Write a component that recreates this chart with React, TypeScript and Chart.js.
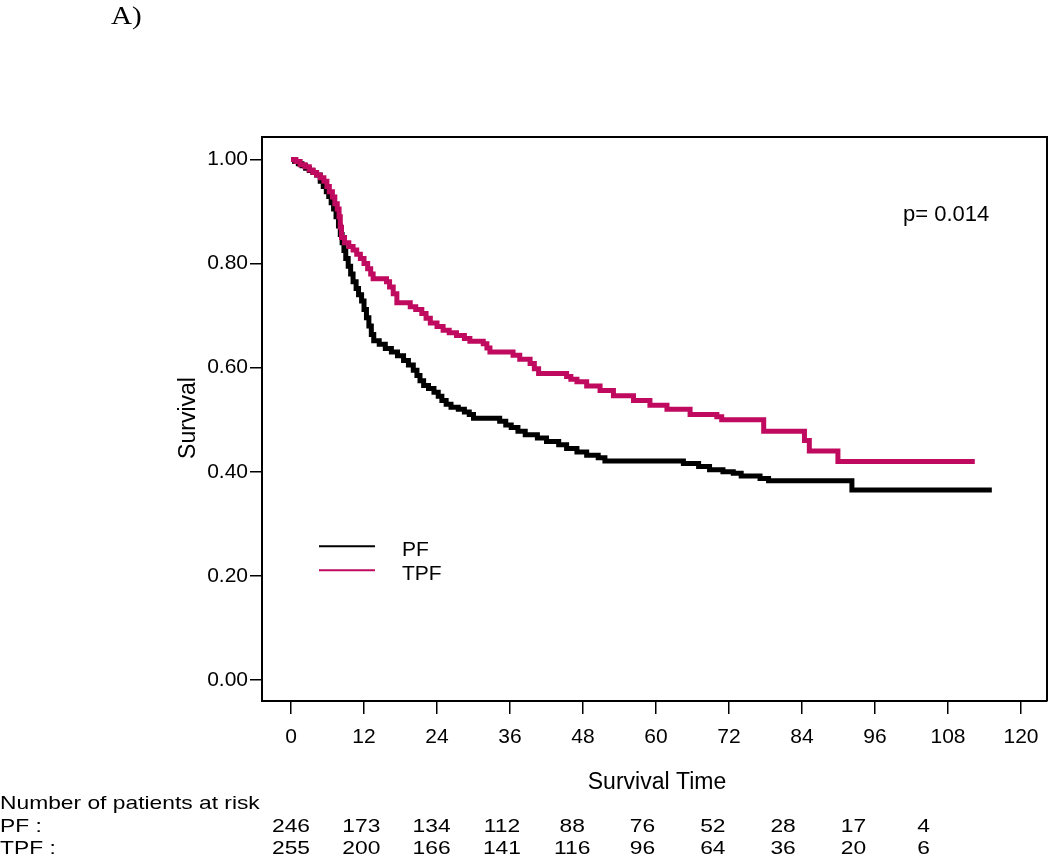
import React, { useEffect, useRef } from 'react';
import { Chart, registerables } from 'chart.js';

Chart.register(...registerables);

// ---- Data ----
const groupNames = ['PF', 'TPF'];

const pfTimes = [0, 0.6, 1.2, 1.8, 2.4, 3.0, 3.6, 4.2, 4.8, 5.3, 5.8, 6.2, 6.6, 7.0, 7.4, 7.8, 8.1, 8.4, 8.7, 9.0, 9.4, 9.8, 10.2, 10.7, 11.1, 11.6, 12.0, 12.4, 12.8, 13.2, 13.6, 14.5, 15.5, 16.5, 17.5, 18.5, 19.3, 20.1, 20.7, 21.2, 21.8, 22.6, 23.5, 24.2, 24.8, 25.5, 26.3, 27.5, 28.5, 29.3, 30.0, 34.3, 35.3, 36.2, 37.3, 38.5, 40.5, 42.0, 44.0, 45.3, 47.0, 48.6, 50.5, 51.6, 64.5, 67.0, 68.8, 71.0, 72.7, 74.0, 77.1, 78.5, 92.2, 115.2];
const pfSurvival = [1.0, 0.996, 0.992, 0.988, 0.983, 0.979, 0.975, 0.970, 0.958, 0.948, 0.938, 0.929, 0.917, 0.905, 0.890, 0.872, 0.856, 0.840, 0.825, 0.810, 0.795, 0.780, 0.765, 0.752, 0.740, 0.728, 0.712, 0.696, 0.680, 0.664, 0.652, 0.645, 0.637, 0.630, 0.623, 0.614, 0.605, 0.595, 0.585, 0.575, 0.566, 0.560, 0.553, 0.545, 0.537, 0.530, 0.524, 0.520, 0.515, 0.510, 0.503, 0.497, 0.490, 0.485, 0.478, 0.471, 0.465, 0.458, 0.452, 0.445, 0.438, 0.432, 0.427, 0.421, 0.416, 0.410, 0.404, 0.400, 0.397, 0.392, 0.387, 0.383, 0.365, 0.365];

const tpfTimes = [0, 0.8, 1.5, 2.3, 3.0, 3.6, 4.2, 4.8, 5.4, 5.9, 6.3, 6.8, 7.2, 7.6, 7.9, 8.1, 8.3, 8.8, 9.5, 10.2, 10.8, 11.4, 12.0, 12.6, 13.1, 13.5, 15.7, 16.2, 16.8, 17.4, 19.6, 20.5, 21.5, 22.2, 22.9, 24.0, 25.0, 26.0, 27.2, 28.5, 29.4, 31.6, 32.2, 32.7, 36.5, 37.6, 39.3, 40.0, 40.7, 45.3, 46.0, 47.0, 48.6, 50.8, 53.0, 56.3, 59.0, 61.8, 65.6, 70.0, 70.8, 77.7, 84.4, 85.2, 89.9, 112.4];
const tpfSurvival = [1.0, 0.996, 0.990, 0.986, 0.980, 0.975, 0.970, 0.965, 0.958, 0.948, 0.938, 0.928, 0.915, 0.905, 0.890, 0.870, 0.850, 0.840, 0.833, 0.826, 0.818, 0.810, 0.800, 0.790, 0.780, 0.771, 0.765, 0.755, 0.742, 0.725, 0.717, 0.712, 0.704, 0.695, 0.686, 0.679, 0.672, 0.667, 0.662, 0.656, 0.651, 0.646, 0.638, 0.630, 0.624, 0.616, 0.608, 0.598, 0.589, 0.583, 0.578, 0.573, 0.565, 0.556, 0.546, 0.537, 0.528, 0.520, 0.510, 0.506, 0.500, 0.478, 0.460, 0.440, 0.420, 0.420];

const xTickValues = [0, 12, 24, 36, 48, 60, 72, 84, 96, 108, 120];
const yTickValues = [0, 0.2, 0.4, 0.6, 0.8, 1.0];

const riskTimes = [0, 12, 24, 36, 48, 60, 72, 84, 96, 108];
const pfAtRisk = [246, 173, 134, 112, 88, 76, 52, 28, 17, 4];
const tpfAtRisk = [255, 200, 166, 141, 116, 96, 64, 36, 20, 6];

const panelLabel = 'A)';
const pValueText = 'p= 0.014';
const xTitle = 'Survival Time';
const yTitle = 'Survival';
const riskTitle = 'Number of patients at risk';

const PF_COLOR = '#000000';
const TPF_COLOR = '#BF0A5F';
const SANS = '"Liberation Sans", Arial, Helvetica, sans-serif';

function stretchedText(ctx: CanvasRenderingContext2D, text: string, x: number, y: number, sx: number, align: CanvasTextAlign) {
  ctx.save();
  ctx.translate(x, y);
  ctx.scale(sx, 1);
  ctx.textAlign = align;
  ctx.fillText(text, 0, 0);
  ctx.restore();
}

const decorPlugin = {
  id: 'kmDecor',
  afterDraw(chart: any) {
    const ctx: CanvasRenderingContext2D = chart.ctx;
    const { left, right, top, bottom } = chart.chartArea;
    const xs = chart.scales.x;
    const ys = chart.scales.y;
    ctx.save();
    // frame (top and right)
    ctx.strokeStyle = '#000';
    ctx.lineWidth = 2;
    ctx.beginPath();
    ctx.moveTo(left, top);
    ctx.lineTo(right, top);
    ctx.lineTo(right, bottom);
    ctx.stroke();

    ctx.fillStyle = '#000';
    ctx.textBaseline = 'alphabetic';

    // p value
    ctx.font = `22px ${SANS}`;
    ctx.textAlign = 'left';
    ctx.fillText(pValueText, 903, 221);

    // legend
    const legendColors = [PF_COLOR, TPF_COLOR];
    const lx1 = xs.getPixelForValue(4.6);
    const lx2 = xs.getPixelForValue(13.8);
    const legendY = [ys.getPixelForValue(0.257), ys.getPixelForValue(0.211)];
    groupNames.forEach((name, i) => {
      ctx.strokeStyle = legendColors[i];
      ctx.lineWidth = 2;
      ctx.beginPath();
      ctx.moveTo(lx1, legendY[i]);
      ctx.lineTo(lx2, legendY[i]);
      ctx.stroke();
      ctx.font = `21px ${SANS}`;
      ctx.textAlign = 'left';
      ctx.fillText(name, 402, legendY[i] + 10);
    });

    // axis titles
    ctx.font = `23px ${SANS}`;
    ctx.textAlign = 'center';
    ctx.fillText(xTitle, 657, 789);
    ctx.save();
    ctx.translate(195, 418);
    ctx.rotate(-Math.PI / 2);
    ctx.textAlign = 'center';
    ctx.fillText(yTitle, 0, 0);
    ctx.restore();

    // panel label
    ctx.font = `26px "Liberation Serif", "Times New Roman", serif`;
    stretchedText(ctx, panelLabel, 111, 24, 1.12, 'left');

    // risk table
    ctx.font = `19px ${SANS}`;
    const sx = 1.2;
    stretchedText(ctx, riskTitle, 0, 809, sx, 'left');
    stretchedText(ctx, groupNames[0] + ' :', 0, 832, sx, 'left');
    stretchedText(ctx, groupNames[1] + ' :', 0, 854, sx, 'left');
    riskTimes.forEach((t, i) => {
      const px = xs.getPixelForValue(t * 0.963);
      stretchedText(ctx, String(pfAtRisk[i]), px, 832, sx, 'center');
      stretchedText(ctx, String(tpfAtRisk[i]), px, 854, sx, 'center');
    });
    ctx.restore();
  },
};

export default function App() {
  const canvasRef = useRef<HTMLCanvasElement | null>(null);

  useEffect(() => {
    if (!canvasRef.current) return;
    const toPoints = (ts: number[], ss: number[]) => ts.map((t, i) => ({ x: t, y: ss[i] }));
    const chart = new Chart(canvasRef.current, {
      type: 'line',
      data: {
        datasets: [
          {
            label: groupNames[0],
            data: toPoints(pfTimes, pfSurvival),
            borderColor: PF_COLOR,
            backgroundColor: PF_COLOR,
            borderWidth: 5,
            stepped: 'before',
            pointRadius: 0,
            fill: false,
            borderJoinStyle: 'miter',
            order: 1,
          },
          {
            label: groupNames[1],
            data: toPoints(tpfTimes, tpfSurvival),
            borderColor: TPF_COLOR,
            backgroundColor: TPF_COLOR,
            borderWidth: 5,
            stepped: 'before',
            pointRadius: 0,
            fill: false,
            borderJoinStyle: 'miter',
            order: 0,
          },
        ],
      },
      options: {
        responsive: false,
        animation: false,
        events: [],
        layout: { padding: { left: 182, right: 3, top: 137, bottom: 97 } },
        plugins: {
          legend: { display: false },
          tooltip: { enabled: false },
          title: { display: false },
        },
        scales: {
          x: {
            type: 'linear',
            min: -4.77,
            max: 124.27,
            afterBuildTicks: (s: any) => {
              s.ticks = xTickValues.map((v) => ({ value: v }));
            },
            afterFit: (s: any) => {
              s.height = 60;
            },
            ticks: {
              autoSkip: false,
              maxRotation: 0,
              color: '#000',
              padding: 11,
              font: { family: SANS, size: 21 },
              callback: (v: any) => String(v),
            },
            grid: {
              display: true,
              drawOnChartArea: false,
              drawTicks: true,
              tickLength: 13,
              color: '#000',
              lineWidth: 1.5,
            },
            border: { display: true, color: '#000', width: 2 },
          },
          y: {
            type: 'linear',
            min: -0.0403,
            max: 1.0432,
            afterBuildTicks: (s: any) => {
              s.ticks = yTickValues.map((v) => ({ value: v }));
            },
            afterFit: (s: any) => {
              s.width = 80;
            },
            ticks: {
              autoSkip: false,
              color: '#000',
              padding: 2,
              font: { family: SANS, size: 21 },
              callback: (v: any) => Number(v).toFixed(2),
            },
            grid: {
              display: true,
              drawOnChartArea: false,
              drawTicks: true,
              tickLength: 12,
              color: '#000',
              lineWidth: 1.5,
            },
            border: { display: true, color: '#000', width: 2 },
          },
        },
      },
      plugins: [decorPlugin],
    } as any);
    return () => chart.destroy();
  }, []);

  return (
    <div style={{ position: 'absolute', left: 0, top: 0, width: 1050, height: 858, background: '#fff' }}>
      <canvas ref={canvasRef} width={1050} height={858} style={{ display: 'block' }} />
    </div>
  );
}
